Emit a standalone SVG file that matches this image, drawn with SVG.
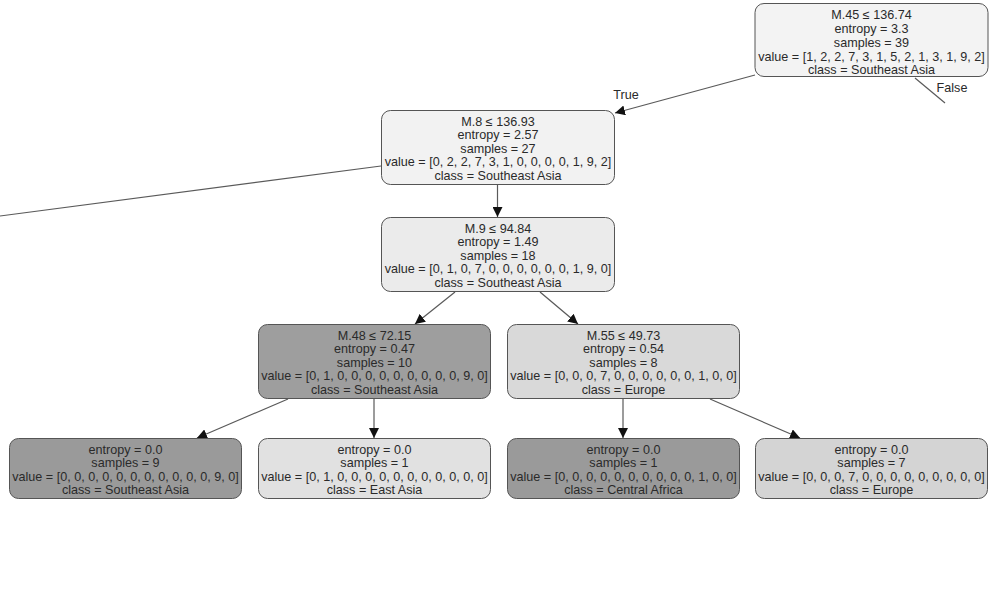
<svg xmlns="http://www.w3.org/2000/svg" width="991" height="603" viewBox="0 0 991 603">
<style>
.box{stroke:#555;stroke-width:1;}
text{font-family:"Liberation Sans",Arial,sans-serif;font-size:12.6px;fill:#2a2a2a;text-anchor:middle;}
.edge{stroke:#5a5a5a;stroke-width:1.2;fill:none;}
</style>
<defs>
<marker id="arr" viewBox="0 0 10 10" refX="10" refY="5" markerWidth="10" markerHeight="10" markerUnits="userSpaceOnUse" orient="auto">
<path d="M0,0 L10,5 L0,10 z" fill="#111"/>
</marker>
</defs>
<rect width="991" height="603" fill="#ffffff"/>
<g id="connectors">
<line class="edge" x1="755" y1="75" x2="615" y2="113" marker-end="url(#arr)"/>
<text x="626" y="99">True</text>
<line class="edge" x1="915" y1="78" x2="945" y2="103"/>
<text x="952" y="92">False</text>
<line class="edge" x1="381" y1="166" x2="0" y2="216"/>
<line class="edge" x1="497.5" y1="185" x2="497.5" y2="217" marker-end="url(#arr)"/>
<line class="edge" x1="455" y1="292" x2="415" y2="324" marker-end="url(#arr)"/>
<line class="edge" x1="540" y1="292" x2="578" y2="324" marker-end="url(#arr)"/>
<line class="edge" x1="288" y1="399" x2="197" y2="438" marker-end="url(#arr)"/>
<line class="edge" x1="374" y1="399" x2="374" y2="438" marker-end="url(#arr)"/>
<line class="edge" x1="623" y1="399" x2="623" y2="438" marker-end="url(#arr)"/>
<line class="edge" x1="710" y1="399" x2="800" y2="438" marker-end="url(#arr)"/>
</g>
<g id="root">
<rect class="box" x="755" y="3.5" width="233" height="73" rx="9" fill="#f3f3f3"/>
<text x="871.5" y="19">M.45 ≤ 136.74</text>
<text x="871.5" y="33">entropy = 3.3</text>
<text x="871.5" y="47">samples = 39</text>
<text x="871.5" y="60.5">value = [1, 2, 2, 7, 3, 1, 5, 2, 1, 3, 1, 9, 2]</text>
<text x="871.5" y="74">class = Southeast Asia</text>
</g>
<g id="n_m8">
<rect class="box" x="381.5" y="110.5" width="233" height="74" rx="9" fill="#f2f2f2"/>
<text x="498" y="125.5">M.8 ≤ 136.93</text>
<text x="498" y="139">entropy = 2.57</text>
<text x="498" y="152.5">samples = 27</text>
<text x="498" y="166">value = [0, 2, 2, 7, 3, 1, 0, 0, 0, 0, 1, 9, 2]</text>
<text x="498" y="179.5">class = Southeast Asia</text>
</g>
<g id="n_m9">
<rect class="box" x="381.5" y="217.5" width="233" height="74" rx="9" fill="#ebebeb"/>
<text x="498" y="232.5">M.9 ≤ 94.84</text>
<text x="498" y="246">entropy = 1.49</text>
<text x="498" y="259.5">samples = 18</text>
<text x="498" y="273">value = [0, 1, 0, 7, 0, 0, 0, 0, 0, 0, 1, 9, 0]</text>
<text x="498" y="286.5">class = Southeast Asia</text>
</g>
<g id="n_m48">
<rect class="box" x="258.5" y="324.5" width="232" height="74" rx="9" fill="#9e9e9e"/>
<text x="374.5" y="339.5">M.48 ≤ 72.15</text>
<text x="374.5" y="353">entropy = 0.47</text>
<text x="374.5" y="366.5">samples = 10</text>
<text x="374.5" y="380">value = [0, 1, 0, 0, 0, 0, 0, 0, 0, 0, 0, 9, 0]</text>
<text x="374.5" y="393.5">class = Southeast Asia</text>
</g>
<g id="n_m55">
<rect class="box" x="507.5" y="324.5" width="232" height="74" rx="9" fill="#d9d9d9"/>
<text x="623.5" y="339.5">M.55 ≤ 49.73</text>
<text x="623.5" y="353">entropy = 0.54</text>
<text x="623.5" y="366.5">samples = 8</text>
<text x="623.5" y="380">value = [0, 0, 0, 7, 0, 0, 0, 0, 0, 0, 1, 0, 0]</text>
<text x="623.5" y="393.5">class = Europe</text>
</g>
<g id="leaf_sea">
<rect class="box" x="9.5" y="438.5" width="232" height="60" rx="9" fill="#9a9a9a"/>
<text x="125.5" y="453.5">entropy = 0.0</text>
<text x="125.5" y="467">samples = 9</text>
<text x="125.5" y="480.5">value = [0, 0, 0, 0, 0, 0, 0, 0, 0, 0, 0, 9, 0]</text>
<text x="125.5" y="494">class = Southeast Asia</text>
</g>
<g id="leaf_ea">
<rect class="box" x="258.5" y="438.5" width="232" height="60" rx="9" fill="#e1e1e1"/>
<text x="374.5" y="453.5">entropy = 0.0</text>
<text x="374.5" y="467">samples = 1</text>
<text x="374.5" y="480.5">value = [0, 1, 0, 0, 0, 0, 0, 0, 0, 0, 0, 0, 0]</text>
<text x="374.5" y="494">class = East Asia</text>
</g>
<g id="leaf_ca">
<rect class="box" x="507.5" y="438.5" width="232" height="60" rx="9" fill="#9a9a9a"/>
<text x="623.5" y="453.5">entropy = 0.0</text>
<text x="623.5" y="467">samples = 1</text>
<text x="623.5" y="480.5">value = [0, 0, 0, 0, 0, 0, 0, 0, 0, 0, 1, 0, 0]</text>
<text x="623.5" y="494">class = Central Africa</text>
</g>
<g id="leaf_eu">
<rect class="box" x="755.5" y="438.5" width="232" height="60" rx="9" fill="#d4d4d4"/>
<text x="871.5" y="453.5">entropy = 0.0</text>
<text x="871.5" y="467">samples = 7</text>
<text x="871.5" y="480.5">value = [0, 0, 0, 7, 0, 0, 0, 0, 0, 0, 0, 0, 0]</text>
<text x="871.5" y="494">class = Europe</text>
</g>
</svg>
